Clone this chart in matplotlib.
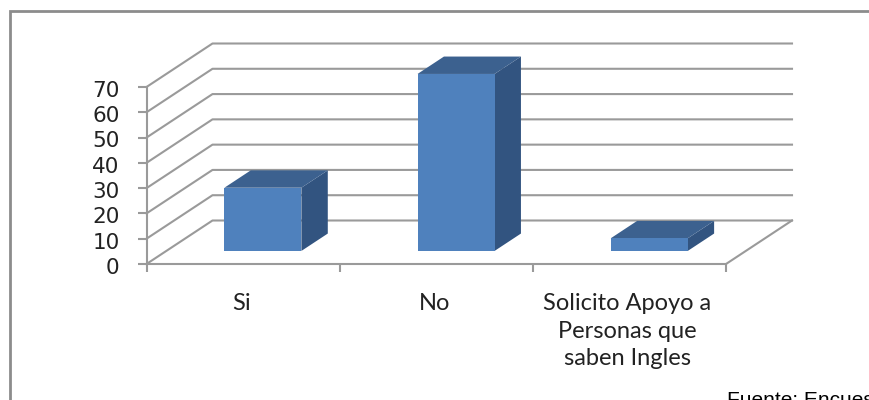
import numpy as np
import matplotlib
matplotlib.use("Agg")
import matplotlib.pyplot as plt
from matplotlib.patches import Polygon, Rectangle

categories = ["Si", "No", "Solicito Apoyo a\nPersonas que\nsaben Ingles"]
values = [25, 70, 5]
y_ticks = [0, 10, 20, 30, 40, 50, 60, 70]

W, H = 869, 400
fig = plt.figure(figsize=(W / 100, H / 100), dpi=100)

# front plane of the fake 3d box
left, right, bottom, top = 146.5, 726, 264, 87
ax = fig.add_axes([left / W, 1 - bottom / H, (right - left) / W, (bottom - top) / H])
ax.set_xlim(0, 3)
ax.set_ylim(0, 70)
ax.patch.set_visible(False)

# how far one full depth shifts things, in data units
depth_x = 66 / (right - left) * 3
depth_y = 43.5 / (bottom - top) * 70

grid_col = "#9a9a9a"
for t in y_ticks:
    ax.plot([0, depth_x, 3 + depth_x], [t, t + depth_y, t + depth_y],
            color=grid_col, lw=1.5, clip_on=False, zorder=1)
# floor, right edge
ax.plot([3, 3 + depth_x], [0, depth_y], color=grid_col, lw=1.5, clip_on=False, zorder=1)

bar_w = 77 / (right - left) * 3
d0, d1 = 0.3, 0.7
front_col, top_col, side_col = "#4f81bd", "#3c618f", "#325480"
for i, v in enumerate(values):
    x0 = i + 0.5 - bar_w / 2 + d0 * depth_x
    x1 = x0 + bar_w
    y0 = d0 * depth_y
    y1 = y0 + v
    sx = (d1 - d0) * depth_x
    sy = (d1 - d0) * depth_y
    ax.add_patch(Polygon([(x1, y0), (x1 + sx, y0 + sy), (x1 + sx, y1 + sy), (x1, y1)],
                         fc=side_col, ec="none", clip_on=False, zorder=3))
    ax.add_patch(Polygon([(x0, y1), (x1, y1), (x1 + sx, y1 + sy), (x0 + sx, y1 + sy)],
                         fc=top_col, ec="none", clip_on=False, zorder=3))
    ax.add_patch(Rectangle((x0, y0), bar_w, v, fc=front_col, ec="none", clip_on=False, zorder=4))

for s in ["top", "right"]:
    ax.spines[s].set_visible(False)
for s in ["left", "bottom"]:
    ax.spines[s].set_color(grid_col)
    ax.spines[s].set_linewidth(1.5)

ax.set_yticks(y_ticks)
ax.set_yticklabels([])
ax.set_xticks([0, 1, 2, 3])
ax.set_xticklabels([])
ax.tick_params(axis="y", length=6.5, width=1.5, color=grid_col)
ax.tick_params(axis="x", length=6, width=1.5, color=grid_col)

# y labels placed by hand, a little below their ticks
for t in y_ticks:
    ax.text(-0.14, t - 1.5, str(t), ha="right", va="center", fontsize=15.5,
            color="#222222", family="DejaVu Sans", clip_on=False)

for i, c in enumerate(categories):
    ax.text(i + 0.5 - 0.01, -11.5, c, ha="center", va="top", fontsize=17, color="#222222",
            family="Lato", linespacing=1.39)

# outer border, runs off the page on the right and at the bottom
fig.add_artist(Rectangle((9.5 / W, -0.1), 1.1, 1 - 10.5 / H + 0.1, transform=fig.transFigure,
                         fc="none", ec="#8c8c8c", lw=2))

fig.text(727 / W, 1 - 406 / H, "Fuente: Encuesta", fontsize=15, family="Liberation Sans",
         color="black", va="baseline", ha="left", clip_on=False)

fig.savefig("out.png", dpi=100)
